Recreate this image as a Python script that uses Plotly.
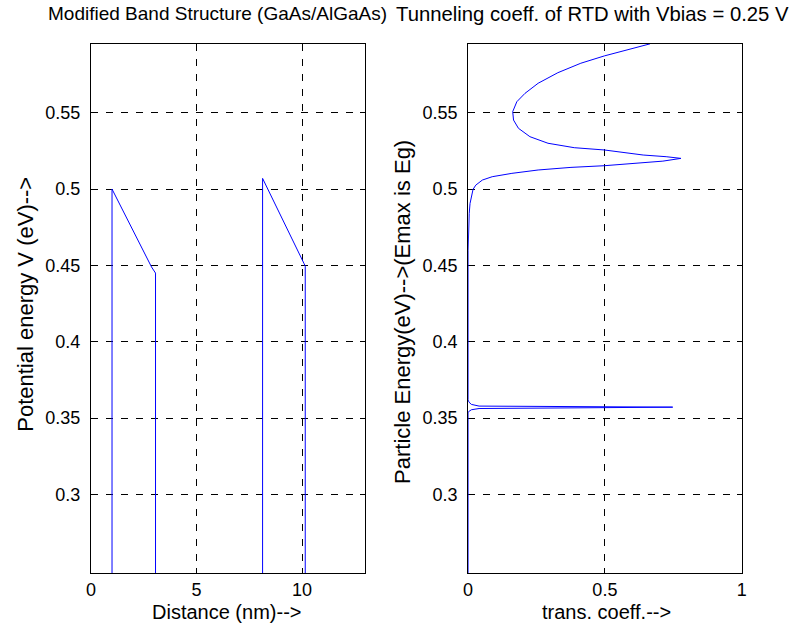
import plotly.graph_objects as go

# ---------------- data ----------------
# Left: modified band structure (distance nm, potential eV)
band_x = [0.0, 1.0, 1.0, 2.87, 3.06, 3.06, 8.13, 8.13, 10.09, 10.15, 10.15, 13.0]
band_v = [0.0, 0.0, 0.5, 0.449, 0.445, 0.0, 0.0, 0.507, 0.4513, 0.4495, 0.0, 0.0]

# Right: transmission coefficient vs particle energy
energy = [0.2486, 0.354, 0.3544, 0.3555, 0.3563, 0.3572, 0.3579, 0.359, 0.3605, 0.362,
          0.46, 0.475, 0.4841, 0.4906, 0.4961, 0.4998, 0.5026, 0.5059, 0.5081, 0.5103,
          0.5125, 0.5142, 0.5153, 0.5168, 0.5183, 0.5201, 0.5212, 0.5223, 0.5256, 0.5271,
          0.530, 0.5343, 0.5398, 0.5452, 0.5507, 0.5572, 0.5627, 0.5693, 0.5762, 0.5824,
          0.5872, 0.5951]
trans = [0.0, 0.0, 0.003, 0.012, 0.04, 0.748, 0.04, 0.012, 0.003, 0.0,
         0.0, 0.001, 0.004, 0.007, 0.012, 0.018, 0.028, 0.052, 0.088, 0.160,
         0.256, 0.376, 0.498, 0.616, 0.712, 0.778, 0.724, 0.640, 0.498, 0.388,
         0.292, 0.226, 0.184, 0.166, 0.163, 0.178, 0.208, 0.256, 0.328, 0.412,
         0.498, 0.665]

y_ticks = [0.3, 0.35, 0.4, 0.45, 0.5, 0.55]
y_ticktext = ["0.3", "0.35", "0.4", "0.45", "0.5", "0.55"]
x1_ticks = [0, 5, 10]
x2_ticks = [0, 0.5, 1]
x2_ticktext = ["0", "0.5", "1"]

titles = ["Modified Band Structure (GaAs/AlGaAs)", "Tunneling coeff. of RTD with Vbias = 0.25 V"]
xlabels = ["Distance (nm)-->", "trans. coeff.-->"]
ylabels = ["Potential energy V (eV)-->", "Particle Energy(eV)-->(Emax is Eg)"]

# ---------------- layout geometry ----------------
W, H = 798, 627
FONT = "Liberation Sans, Arial, Helvetica, sans-serif"
FS_TICK = 18
FS_TITLES = [19, 20.3]
FS_XLABEL = 20
FS_YLABEL = 22
ax1 = [87 / W, 365 / W]
ax2 = [469 / W, 746 / W]
ydom = [1 - 573 / H, 1 - 44 / H]

fig = go.Figure()
fig.add_trace(go.Scatter(x=band_x, y=band_v, mode="lines",
                         line=dict(color="#0000ff", width=1), xaxis="x", yaxis="y",
                         showlegend=False, hoverinfo="skip"))
fig.add_trace(go.Scatter(x=trans, y=energy, mode="lines",
                         line=dict(color="#0000ff", width=1), xaxis="x2", yaxis="y2",
                         showlegend=False, hoverinfo="skip"))

common = dict(showline=True, linecolor="black", linewidth=1, mirror="ticks",
              ticks="inside", ticklen=5, tickcolor="black", tickwidth=1,
              showgrid=True, gridcolor="black", gridwidth=0.8, griddash="7px,8px",
              zeroline=False, tickfont=dict(family=FONT, size=FS_TICK, color="black"))

fig.update_layout(
    width=W, height=H, margin=dict(l=0, r=0, t=0, b=0),
    paper_bgcolor="white", plot_bgcolor="white",
    xaxis=dict(domain=ax1, range=[0, 13], tickvals=x1_ticks, anchor="y", **common),
    yaxis=dict(domain=ydom, range=[0.2486, 0.595], tickvals=y_ticks, ticktext=y_ticktext,
               anchor="x", ticklabelstandoff=6, **common),
    xaxis2=dict(domain=ax2, range=[0, 1], tickvals=x2_ticks, ticktext=x2_ticktext,
                anchor="y2", **common),
    yaxis2=dict(domain=ydom, range=[0.2486, 0.595], tickvals=y_ticks, ticktext=y_ticktext,
                anchor="x2", ticklabelstandoff=6, layer="below traces", **common),
)

ann = []
tcenters = [215.5 / W, 595 / W]
for i in range(2):
    ann.append(dict(text=titles[i], x=tcenters[i], y=1 - 14 / H, xref="paper", yref="paper",
                    xanchor="center", yanchor="middle", showarrow=False,
                    font=dict(family=FONT, size=FS_TITLES[i], color="black")))
xcenters = [224 / W, 609 / W]
for i in range(2):
    ann.append(dict(text=xlabels[i], x=xcenters[i], y=1 - 612 / H, xref="paper", yref="paper",
                    xanchor="center", yanchor="middle", showarrow=False,
                    font=dict(family=FONT, size=FS_XLABEL, color="black")))
ycx = [20 / W, 403 / W]
ycy = [1 - 304 / H, 1 - 312 / H]
for i in range(2):
    ann.append(dict(text=ylabels[i], x=ycx[i], y=ycy[i], xref="paper", yref="paper",
                    xanchor="center", yanchor="middle", showarrow=False, textangle=-90,
                    font=dict(family=FONT, size=FS_YLABEL, color="black")))
fig.update_layout(annotations=ann)

fig.write_html("out.html")
